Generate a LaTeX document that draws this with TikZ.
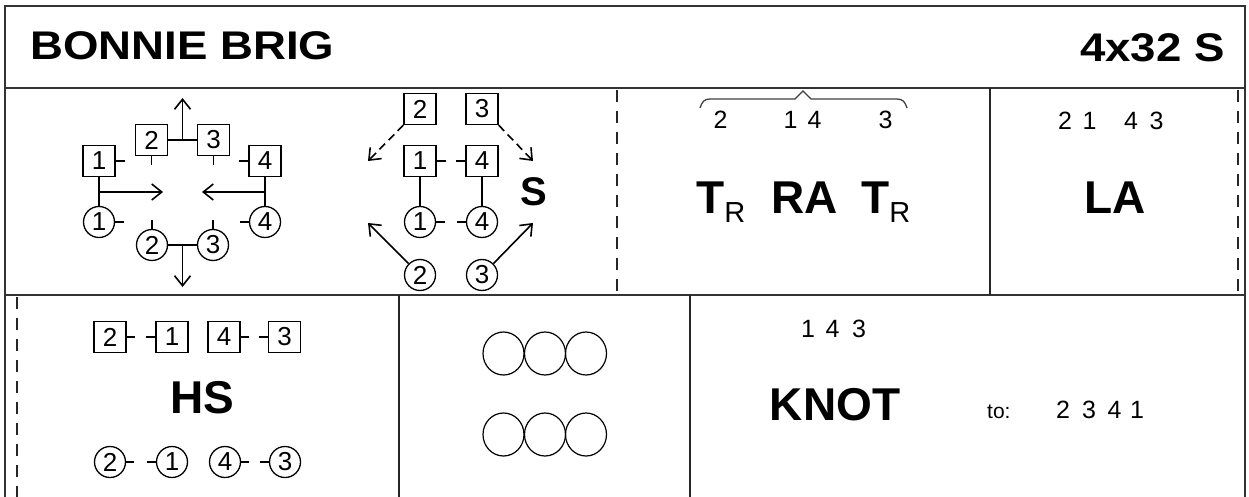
\documentclass[tikz,border=0pt]{standalone}
\usepackage{fontspec}
\setmainfont{Liberation Sans}
\usepackage{graphicx}
\usetikzlibrary{arrows.meta}
\newcommand\myfs[1]{\fontsize{#1pt}{#1pt}\selectfont}
\begin{document}
\begin{tikzpicture}[x=1pt,y=-1pt,
 frame/.style={line width=2pt, draw=black!80},
 divider/.style={line width=1.3pt, draw=black!85},
 dashdiv/.style={line width=1.3pt, draw=black!85, dash pattern=on 12pt off 9pt},
 pbox/.style={draw, line width=1.3pt, rectangle, minimum width=32pt, minimum height=31pt, inner sep=0pt, font=\myfs{26}},
 pcirc/.style={draw, line width=1.3pt, circle, minimum size=31pt, inner sep=0pt, font=\myfs{26}},
 tick/.style={line width=1.3pt},
 link/.style={line width=2.2pt},
 mv/.style={line width=1.6pt, -{Straight Barb[length=10pt,width=16pt]}},
 mvd/.style={mv, dash pattern=on 8pt off 5pt},
 num/.style={anchor=base, inner sep=0pt, font=\myfs{25}},
 big/.style={anchor=base, inner sep=0pt, font=\myfs{46}\bfseries},
 ring/.style={line width=1.2pt},
]
\fill[white] (0,0) rectangle (1249,497);
\useasboundingbox (0,0) rectangle (1249,497);

% frame and cells
\draw[frame] (5,497) -- (5,6) -- (1245,6) -- (1245,497);
\draw[frame] (5,88) -- (1245,88);
\draw[frame] (5,295) -- (1245,295);
\draw[dashdiv] (617,90) -- (617,295);
\draw[divider] (990,88) -- (990,295);
\draw[dashdiv] (1238,90) -- (1238,295);
\draw[dashdiv] (17,297) -- (17,497);
\draw[divider] (399,295) -- (399,497);
\draw[divider] (690,295) -- (690,497);

% title
\node[anchor=base west, inner sep=0pt, font=\myfs{40}\bfseries] (title) at (30,60) {\scalebox{1.14}[1]{BONNIE BRIG}};
\node[anchor=base east, inner sep=0pt, font=\myfs{40}\bfseries] (form) at (1225,62) {\scalebox{1.14}[1]{4x32 S}};

% diagram 1
\node[pbox] (a1) at (99,161) {1};
\node[pbox] (a2) at (151.5,140) {2};
\node[pbox] (a3) at (213.5,140) {3};
\node[pbox] (a4) at (265,161) {4};
\node[pcirc] (p1) at (99,222) {1};
\node[pcirc] (p2) at (152,245) {2};
\node[pcirc] (p3) at (213,245) {3};
\node[pcirc] (p4) at (265,222) {4};
\coordinate (a23) at (182.5,140);
\coordinate (upT) at (182.5,98);
\coordinate (p23) at (182.5,245);
\coordinate (dnT) at (182.5,287);
\coordinate (l1) at (99,192);
\coordinate (l1e) at (163,192);
\coordinate (l4) at (265,192);
\coordinate (l4e) at (202,192);
\draw[link] (a2) -- (a3);
\draw[link] (p2) -- (p3);
\draw[link] (a1) -- (p1);
\draw[link] (a4) -- (p4);
\draw[mv] (a23) -- (upT);
\draw[mv] (p23) -- (dnT);
\draw[mv] (l1) -- (l1e);
\draw[mv] (l4) -- (l4e);
\draw[tick] (a1.east) -- ++(9,0);
\draw[tick] (a2.south) -- ++(0,9);
\draw[tick] (a3.south) -- ++(0,9);
\draw[tick] (a4.west) -- ++(-9,0);
\draw[tick] (p1.east) -- ++(9,0);
\draw[tick] (p2.north) -- ++(0,-9);
\draw[tick] (p3.north) -- ++(0,-9);
\draw[tick] (p4.west) -- ++(-9,0);

% diagram 2
\node[pbox] (b2) at (420,109) {2};
\node[pbox] (b3) at (482,109) {3};
\node[pbox] (b1) at (420,161) {1};
\node[pbox] (b4) at (482,161) {4};
\node[pcirc] (q1) at (420,222) {1};
\node[pcirc] (q4) at (482,222) {4};
\node[pcirc] (q2) at (420,275) {2};
\node[pcirc] (q3) at (482,275) {3};
\coordinate (d2e) at (368,161);
\coordinate (d3e) at (533,161);
\coordinate (s2e) at (368,223);
\coordinate (s3e) at (533,223);
\draw[link] (b1) -- (q1);
\draw[link] (b4) -- (q4);
\draw[tick] (b1.east) -- ++(9,0);
\draw[tick] (b4.west) -- ++(-9,0);
\draw[tick] (q1.east) -- ++(9,0);
\draw[tick] (q4.west) -- ++(-9,0);
\draw[mvd] (b2.south west) -- (d2e);
\draw[mvd] (b3.south east) -- (d3e);
\draw[mv] (q2.north west) -- (s2e);
\draw[mv] (q3.north east) -- (s3e);
\node[anchor=base, inner sep=0pt, font=\myfs{40}\bfseries] (S) at (534,205) {S};

% TR RA TR cell
\draw[line width=1.3pt, black!75] (700,108) .. controls (702,102) and (704,99) .. (710,99) -- (795,99) -- (803,91) -- (811,99) -- (897,99) .. controls (903,99) and (905,102) .. (907,108);
\node[num] (n2) at (720.5,129) {2};
\node[num] (n1) at (790.5,129) {1};
\node[num] (n4) at (814.5,129) {4};
\node[num] (n3) at (885.5,129) {3};
\node[anchor=base west, inner sep=0pt, font=\myfs{46}\bfseries] (tr1) at (696,213) {T\raisebox{-9pt}{\myfs{29}\mdseries R}};
\node[big] (ra) at (804.5,213) {RA};
\node[anchor=base west, inner sep=0pt, font=\myfs{46}\bfseries] (tr2) at (861,213) {T\raisebox{-9pt}{\myfs{29}\mdseries R}};

% LA cell
\node[num] (m2) at (1065,130) {2};
\node[num] (m1) at (1089.5,130) {1};
\node[num] (m4) at (1131,130) {4};
\node[num] (m3) at (1156.5,130) {3};
\node[big] (la) at (1115,213) {LA};

% HS cell
\node[pbox] (h2) at (110,337) {2};
\node[pbox] (h1) at (172,337) {1};
\node[pbox] (h4) at (224,337) {4};
\node[pbox] (h3) at (284.5,337) {3};
\draw[tick] (h2.east) -- ++(8,0);
\draw[tick] (h1.west) -- ++(-9,0);
\draw[tick] (h4.east) -- ++(8,0);
\draw[tick] (h3.west) -- ++(-9,0);
\node[big] (hs) at (202.5,413) {HS};
\node[pcirc] (k2) at (110,462) {2};
\node[pcirc] (k1) at (172,462) {1};
\node[pcirc] (k4) at (225,462) {4};
\node[pcirc] (k3) at (285,462) {3};
\draw[tick] (k2.east) -- ++(8,0);
\draw[tick] (k1.west) -- ++(-9,0);
\draw[tick] (k4.east) -- ++(8,0);
\draw[tick] (k3.west) -- ++(-9,0);

% set circles
\draw[ring] (503.5,353.5) ellipse [x radius=20.5, y radius=21.5];
\draw[ring] (545,353.5) ellipse [x radius=20.5, y radius=21.5];
\draw[ring] (586,353.5) ellipse [x radius=20.5, y radius=21.5];
\draw[ring] (503.5,434.5) ellipse [x radius=20.5, y radius=21.5];
\draw[ring] (545,434.5) ellipse [x radius=20.5, y radius=21.5];
\draw[ring] (586,434.5) ellipse [x radius=20.5, y radius=21.5];

% KNOT cell
\node[num] (r1) at (808,337) {1};
\node[num] (r4) at (832.5,337) {4};
\node[num] (r3) at (859,337) {3};
\node[big] (knot) at (835,420) {KNOT};
\node[anchor=base west, inner sep=0pt, font=\myfs{21}] (to) at (987,418) {to:};
\node[num] (t2) at (1063,418) {2};
\node[num] (t3) at (1089,418) {3};
\node[num] (t4) at (1114.5,418) {4};
\node[num] (t1) at (1137,418) {1};
\end{tikzpicture}
\end{document}
